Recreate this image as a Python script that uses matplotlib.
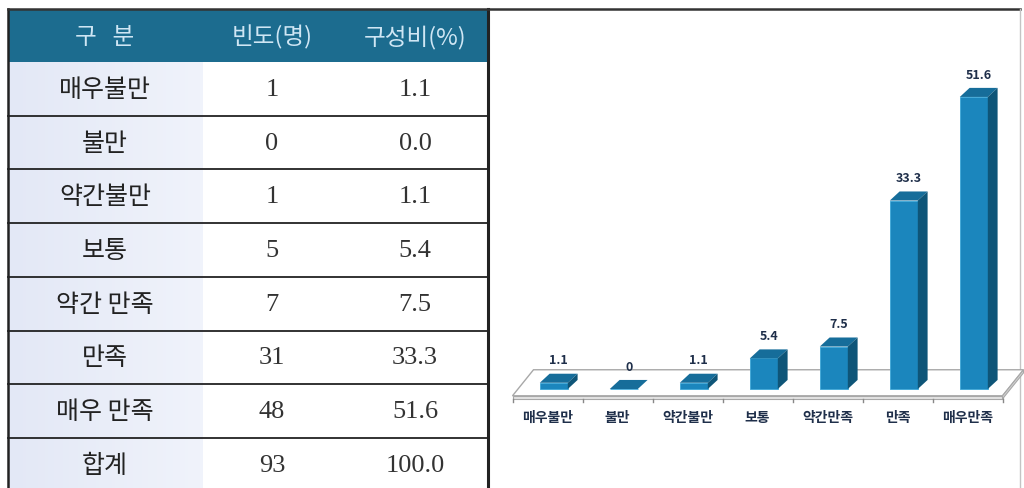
import numpy as np
import matplotlib as mpl
mpl.use('Agg')
from matplotlib import pyplot as plt
from matplotlib.patches import Rectangle, Polygon

plt.rcParams['font.family'] = ['Noto Sans CJK KR', 'DejaVu Sans']

# table data
row_labels = ['매우불만', '불만', '약간불만', '보통', '약간 만족', '만족', '매우 만족', '합계']
freq = [1, 0, 1, 5, 7, 31, 48, 93]
pct = [1.1, 0.0, 1.1, 5.4, 7.5, 33.3, 51.6, 100.0]
headers = ['구   분', '빈도(명)', '구성비(%)']

# chart data
bar_labels = ['매우불만', '불만', '약간불만', '보통', '약간만족', '만족', '매우만족']
bar_values = [1.1, 0, 1.1, 5.4, 7.5, 33.3, 51.6]

W, H = 1024, 489
fig = plt.figure(figsize=(W / 100, H / 100), dpi=100)

# ---------- table (pixel coordinates) ----------
tab = fig.add_axes([0, 0, 1, 1])
tab.set_xlim(0, W)
tab.set_ylim(H, 0)
tab.axis('off')

left, right = 8, 488
top, head_bot = 10, 63
row_h = 53.7
col_x = [105, 272, 415]

tab.add_patch(Rectangle((left, top), right - left, head_bot - top,
                        facecolor='#1c6c8f', edgecolor='none', zorder=1))
for x, h in zip(col_x, headers):
    tab.text(x, (top + head_bot) / 2 + 1, h, ha='center', va='center',
             fontsize=17, color='#cfe6f4', fontweight='light', zorder=3)

# shaded label column
grad = np.linspace(0, 1, 64).reshape(1, -1)
cmap = mpl.colors.LinearSegmentedColormap.from_list('shade', ['#e3e8f6', '#f0f3fb'])
tab.imshow(grad, extent=[left, 203, H, head_bot], cmap=cmap, aspect='auto', zorder=0)

for i, lab in enumerate(row_labels):
    y0 = head_bot + i * row_h
    yc = y0 + row_h / 2
    tab.text(col_x[0], yc, lab, ha='center', va='center', fontsize=18, color='#222222')
    tab.text(col_x[1], yc, str(freq[i]), ha='center', va='center', fontsize=19,
             family='Liberation Serif', color='#333333')
    tab.text(col_x[2], yc, '%.1f' % pct[i], ha='center', va='center', fontsize=19,
             family='Liberation Serif', color='#333333')
    if i > 0:
        tab.plot([left, right], [y0, y0], color='#222222', lw=1.3, zorder=2)

tab.plot([left, left], [top, H], color='#222222', lw=1.8, zorder=4)
tab.plot([right, right], [top, H], color='#222222', lw=2.2, zorder=4)
tab.plot([left, 1020], [top, top], color='#333333', lw=1.8, zorder=4)
tab.plot([1020, 1020], [top, H], color='#c4c4c4', lw=1.0, zorder=4)

# ---------- 3d-looking bar chart ----------
px0, px1, py0, py1 = 500, 1024, 12, 480
ax = fig.add_axes([px0 / W, 1 - py1 / H, (px1 - px0) / W, (py1 - py0) / H])
ax.patch.set_alpha(0)
c0, step, base_px, scale = 547.5, 70.0, 390.0, 5.66
ax.set_xlim((px0 - c0) / step, (px1 - c0) / step)
ax.set_ylim((base_px - py1) / scale, (base_px - py0) / scale)
ax.axis('off')

n = len(bar_values)
x = np.arange(n)
bw, off, dx, dy = 0.4, 0.09, 0.14, 1.6

# floor
f_front, f_back, f_shift, f_thick = -1.2, 3.4, 0.3, 0.55
fl, fr = -0.5, n - 0.5
ax.add_patch(Polygon([(fl, f_front), (fr, f_front), (fr + f_shift, f_back),
                      (fl + f_shift, f_back)], closed=True,
                     facecolor='#ffffff', edgecolor='#a8a8a8', lw=1.0, zorder=1))
ax.add_patch(Polygon([(fl, f_front), (fr, f_front), (fr, f_front - f_thick),
                      (fl, f_front - f_thick)], closed=True,
                     facecolor='#e4e4e4', edgecolor='#a8a8a8', lw=0.8, zorder=1))
ax.add_patch(Polygon([(fr, f_front), (fr + f_shift, f_back),
                      (fr + f_shift, f_back - f_thick), (fr, f_front - f_thick)],
                     closed=True, facecolor='#d4d4d4', edgecolor='#a8a8a8', lw=0.8, zorder=1))
for b in np.arange(n + 1) - 0.5:
    ax.plot([b, b], [f_front - f_thick, f_front - f_thick - 0.6], color='#888888', lw=1.0, zorder=1)

front_c, top_c, side_c = '#1b86bd', '#166d9a', '#0e5578'
for xi, v, lab in zip(x, bar_values, bar_labels):
    l = xi + off - bw / 2
    r = l + bw
    ax.bar(l, v, width=bw, bottom=0, align='edge', color=front_c,
           edgecolor='#3aa6d8', lw=0.6, zorder=3)
    ax.add_patch(Polygon([(l, v), (r, v), (r + dx, v + dy), (l + dx, v + dy)],
                         closed=True, facecolor=top_c, edgecolor='none', zorder=3))
    ax.add_patch(Polygon([(r, 0), (r + dx, dy), (r + dx, v + dy), (r, v)],
                         closed=True, facecolor=side_c, edgecolor='none', zorder=3))
    ax.text(xi + off + dx / 2, v + dy + 1.3, '%g' % v, ha='center', va='bottom',
            fontsize=9, fontweight='bold', color='#1f2f4a', zorder=4)
    ax.text(xi, -5.0, lab, ha='center', va='center', fontsize=10,
            fontweight='bold', color='#1f2f4a', zorder=4)

fig.savefig('out.png', dpi=100)
